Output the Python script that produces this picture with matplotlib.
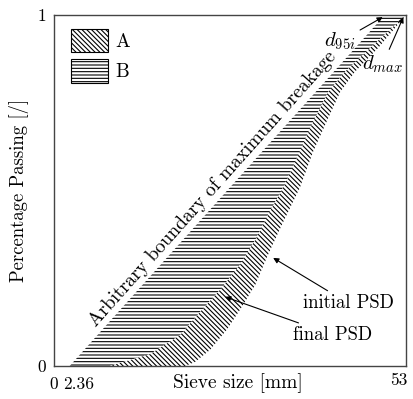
import numpy as np
import matplotlib
matplotlib.use("Agg")
import matplotlib.pyplot as plt
from matplotlib.patches import Patch
from matplotlib.transforms import ScaledTranslation

plt.rcParams['font.family'] = 'serif'
plt.rcParams['font.serif'] = ['cmr10', 'DejaVu Serif']
plt.rcParams['mathtext.fontset'] = 'cm'
plt.rcParams['axes.formatter.use_mathtext'] = True
plt.rcParams['hatch.linewidth'] = 0.8

# boundary of maximum breakage (straight line 2.36 -> d95i)
boundary_x = [2.36, 49.8]
boundary_y = [0.0, 1.0]

# final PSD
final_x = [8.4, 14.5, 19.0, 22.0, 25.0, 28.0, 30.3, 32.2, 34.3, 36.6, 38.8, 41.3, 43.8, 47.6, 53.0]
final_y = [0.0, 0.034, 0.088, 0.154, 0.217, 0.288, 0.359, 0.430, 0.501, 0.593, 0.687, 0.781, 0.838, 0.906, 1.0]

# initial PSD
initial_x = [19.7, 21.2, 23.5, 26.0, 28.0, 30.3, 32.2, 34.3, 37.0, 39.0, 41.3, 43.1, 45.3, 48.8, 53.0]
initial_y = [0.0, 0.011, 0.046, 0.103, 0.160, 0.231, 0.316, 0.402, 0.507, 0.610, 0.707, 0.781, 0.838, 0.906, 1.0]

xticks = [0, 2.36, 53]
xtick_labels = ['0', '2.36', '53']
yticks = [0, 1]
ytick_labels = ['0', '1']

fig = plt.figure(figsize=(4.14, 3.99), dpi=100)
ax = fig.add_axes([54/414, 33/399, 352/414, 351/399])

hatch_A = '\\' * 7
hatch_B = '-----'

# region B : boundary -> final PSD
bx = np.r_[boundary_x, final_x[::-1]]
by = np.r_[boundary_y, final_y[::-1]]
ax.fill(bx, by, facecolor='white', edgecolor='black', hatch=hatch_B, lw=0)

# region A : final PSD -> initial PSD
axx = np.r_[final_x, initial_x[::-1]]
ayy = np.r_[final_y, initial_y[::-1]]
ax.fill(axx, ayy, facecolor='white', edgecolor='black', hatch=hatch_A, lw=0)

ax.set_xlim(0, 53)
ax.set_ylim(0, 1)
ax.set_xticks(xticks)
ax.set_xticklabels(xtick_labels)
ax.set_yticks(yticks)
ax.set_yticklabels(ytick_labels)
ax.tick_params(axis='x', length=0, labelsize=12.5, pad=8)
ax.tick_params(axis='y', length=0, labelsize=12.5, pad=6)
for s in ax.spines.values():
    s.set_color('#444444')
    s.set_linewidth(1.0)

# nudge tick labels like the original
lbls = ax.get_xticklabels()
lbls[1].set_transform(lbls[1].get_transform() + ScaledTranslation(9/100, 0, fig.dpi_scale_trans))
lbls[2].set_transform(lbls[2].get_transform() + ScaledTranslation(-7/100, 4/100, fig.dpi_scale_trans))

ax.set_xlabel('Sieve size [mm]', fontsize=14)
ax.xaxis.set_label_coords(0.523, -0.02)
ax.set_ylabel('Percentage Passing [/]', fontsize=13.5, labelpad=6)

ax.text(23.9, 0.505, 'Arbitrary boundary of maximum breakage', rotation=48.3,
        rotation_mode='anchor', ha='center', va='center', fontsize=14)

aprops = dict(arrowstyle='-|>', lw=0.8, color='black', mutation_scale=8, shrinkA=1, shrinkB=0)
ax.annotate('initial PSD', xy=(33.0, 0.308), xytext=(44.3, 0.179), ha='center', va='center',
            fontsize=13.5, arrowprops=aprops)
ax.annotate('final PSD', xy=(25.75, 0.197), xytext=(42.0, 0.088), ha='center', va='center',
            fontsize=13.5, arrowprops=aprops)
ax.annotate(r'$d_{95i}$', xy=(49.5, 0.994), xytext=(43.1, 0.925), ha='center', va='center',
            fontsize=15, arrowprops=aprops)
ax.annotate(r'$d_{max}$', xy=(52.6, 0.994), xytext=(49.5, 0.860), ha='center', va='center',
            fontsize=15, arrowprops=aprops)

handles = [Patch(facecolor='white', edgecolor='black', hatch=hatch_A, lw=0.8, label='A'),
           Patch(facecolor='white', edgecolor='black', hatch=hatch_B, lw=0.8, label='B')]
ax.legend(handles=handles, loc='upper left', frameon=False, fontsize=14,
          handlelength=1.9, handleheight=1.45, handletextpad=0.4, labelspacing=0.4,
          borderaxespad=0.3, bbox_to_anchor=(0.01, 1.0))

fig.savefig('out.png', dpi=100)
